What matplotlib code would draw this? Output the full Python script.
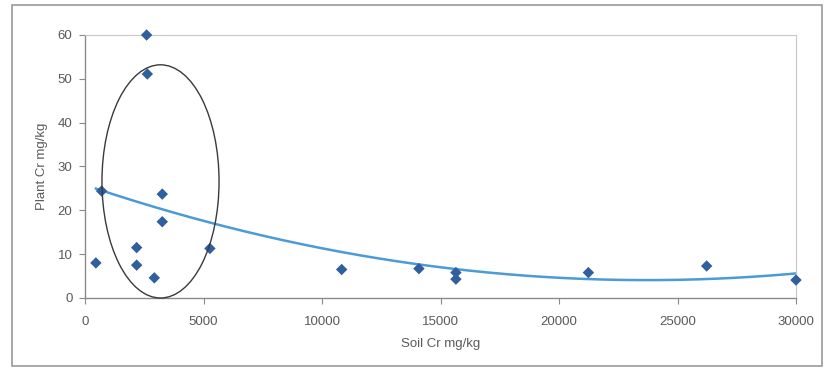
import numpy as np
import matplotlib
matplotlib.use("Agg")
import matplotlib.pyplot as plt
from matplotlib.patches import Ellipse, Rectangle

plt.rcParams['font.family'] = ['Liberation Sans', 'DejaVu Sans']

soil_cr = [460, 700, 2600, 2630, 2180, 2180, 2925, 3260, 3260, 5270,
           10830, 14090, 15650, 15650, 21240, 26230, 30000]
plant_cr = [8.0, 24.4, 60.0, 51.1, 11.5, 7.5, 4.6, 23.7, 17.4, 11.3,
            6.5, 6.7, 5.8, 4.3, 5.8, 7.3, 4.1]

x_ticks = [0, 5000, 10000, 15000, 20000, 25000, 30000]
y_ticks = [0, 10, 20, 30, 40, 50, 60]
x_label = "Soil Cr mg/kg"
y_label = "Plant Cr mg/kg"

W, H = 826, 376
fig = plt.figure(figsize=(W / 100, H / 100), dpi=100)
fig.patch.set_facecolor('white')

# outer chart frame
fig.add_artist(Rectangle((12 / W, 1 - 366 / H), (822 - 12) / W, (366 - 5) / H,
                         transform=fig.transFigure, fill=False,
                         edgecolor='#9a9a9a', linewidth=1.2))

ax = fig.add_axes([85 / W, 1 - 298 / H, (796 - 85) / W, (298 - 35) / H])
ax.set_xlim(0, 30000)
ax.set_ylim(0, 60)

text_col = '#5a5a5a'
for s in ['left', 'bottom']:
    ax.spines[s].set_color('#8a8a8a')
    ax.spines[s].set_linewidth(1.0)
for s in ['top', 'right']:
    ax.spines[s].set_color('#c8c8c8')
    ax.spines[s].set_linewidth(0.8)

ax.set_xticks(x_ticks)
ax.set_yticks(y_ticks)
ax.set_xticklabels([str(v) for v in x_ticks])
ax.set_yticklabels([str(v) for v in y_ticks])
ax.tick_params(axis='both', direction='out', length=4, width=0.8,
               color='#8a8a8a', labelcolor=text_col, labelsize=9.5)
ax.tick_params(axis='x', pad=9)
ax.tick_params(axis='y', pad=5)

ax.set_xlabel(x_label, fontsize=9.5, color=text_col, labelpad=7)
ax.set_ylabel(y_label, fontsize=9.5, color=text_col, labelpad=7)

# second-order polynomial trendline
coef = np.polyfit(soil_cr, plant_cr, 2)
xs = np.linspace(min(soil_cr), max(soil_cr), 300)
ax.plot(xs, np.polyval(coef, xs), color='#4a9bd6', linewidth=1.8, zorder=2)

ax.scatter(soil_cr, plant_cr, marker='D', s=34, color='#2f5f9c',
           edgecolors='none', zorder=3, clip_on=False)

ax.add_patch(Ellipse((3186, 26.6), 4940, 53.2, fill=False,
                     edgecolor='#3a3a3a', linewidth=1.0, zorder=4, clip_on=False))

fig.savefig("out.png", dpi=100)
